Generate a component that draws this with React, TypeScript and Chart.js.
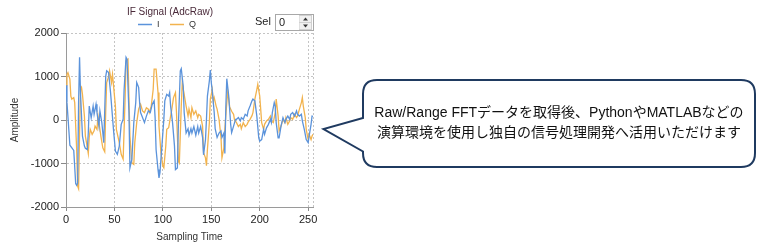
import React, { useEffect, useRef } from "react";
import { Chart, registerables } from "chart.js";

Chart.register(...registerables);

// I channel: sample index and ADC amplitude
const iSamples = [0, 1, 4, 8, 10, 11, 12, 13, 14, 15, 17, 19, 20, 22, 23, 24, 26, 28, 29, 31, 32, 34, 35, 37, 39, 41, 42, 44, 46, 49, 51, 53, 55, 57, 59, 60, 62, 63, 65, 66, 68, 70, 72, 73, 75, 76, 77, 79, 81, 83, 85, 87, 89, 91, 92, 93, 95, 96, 97, 99, 101, 102, 104, 106, 107, 108, 110, 112, 113, 115, 116, 118, 119, 121, 122, 124, 126, 127, 129, 130, 132, 134, 136, 137, 139, 141, 142, 144, 145, 146, 148, 149, 150, 151, 153, 154, 156, 158, 160, 161, 163, 164, 165, 166, 168, 170, 171, 173, 175, 176, 178, 180, 181, 183, 185, 187, 188, 190, 192, 193, 195, 197, 199, 200, 202, 204, 205, 207, 209, 211, 212, 213, 215, 216, 217, 219, 220, 222, 224, 226, 227, 229, 231, 232, 234, 236, 238, 239, 241, 243, 244, 246, 248, 250, 251, 253, 254, 255];
const iValues = [800, 400, -580, -700, -1460, -1500, -1450, 400, 1440, 600, -370, -600, -650, -680, -300, 320, 50, 320, 130, 360, 170, -140, 210, -60, -520, 1000, 1130, 1090, 630, -215, -715, -790, -600, -100, 15, 700, 1440, 1400, 170, -1100, -900, -60, 400, 860, 750, 400, 170, 55, -60, 90, 210, 170, 360, 440, 55, -680, -1140, -1330, -1210, -600, 15, 440, 590, 550, 630, 320, -60, -600, -1140, -1100, -140, 1130, 1180, 780, 170, -300, -200, -350, -200, -300, -150, -350, -150, -300, -150, -400, -800, -450, 15, 550, 900, 1150, 860, 670, 170, -200, -400, -300, -250, -400, -300, -770, 300, 950, 550, -100, -290, -140, 15, 15, 55, -20, 55, 15, 130, 90, 210, 320, 440, 480, 440, 90, -410, -485, -450, -215, -330, -180, -100, 15, -60, 170, 400, 320, -60, -410, -410, -140, 55, -60, 15, 90, 15, 130, 170, 90, 210, 130, 90, 130, -20, -215, -450, -520, -370, -100, 90, 80];

// Q channel: sample index and ADC amplitude
const qSamples = [0, 1, 2, 4, 5, 6, 8, 9, 11, 12, 13, 14, 15, 16, 17, 19, 20, 22, 23, 24, 25, 27, 29, 30, 32, 33, 36, 38, 40, 41, 42, 44, 45, 47, 48, 51, 52, 55, 57, 59, 61, 62, 64, 65, 66, 68, 70, 71, 73, 75, 77, 79, 81, 83, 85, 86, 88, 90, 91, 93, 95, 96, 98, 100, 101, 103, 104, 106, 108, 109, 111, 113, 114, 116, 117, 119, 120, 122, 124, 126, 127, 129, 130, 132, 134, 136, 137, 139, 141, 142, 144, 145, 146, 148, 149, 151, 152, 153, 155, 156, 158, 160, 161, 163, 164, 166, 167, 169, 171, 173, 174, 176, 178, 180, 181, 183, 185, 187, 188, 190, 192, 193, 195, 197, 198, 200, 201, 202, 204, 205, 207, 209, 211, 212, 214, 216, 217, 219, 220, 222, 224, 226, 227, 229, 231, 232, 234, 236, 238, 239, 241, 243, 244, 245, 247, 248, 250, 251, 253, 254, 255];
const qValues = [800, 1050, 1090, 940, 550, 480, 515, 400, -680, -1520, -1580, -300, 710, 750, 590, 90, -370, -630, -770, -400, -215, -330, -250, -140, -215, 100, -370, -640, -730, 200, 860, 1000, 1130, 860, 1050, 320, -215, -520, -790, -900, 480, 1360, 1400, 480, -370, -985, -1020, -520, -60, 250, 360, 210, 170, 280, 250, 170, 320, 700, 1170, 1170, 630, -140, -750, -1060, -1100, -600, -215, -175, 90, 210, 515, 630, 200, -950, -990, 320, 850, 590, 320, 90, 250, 55, 285, 130, 210, 55, 130, 90, -140, -750, -870, -1050, -680, -60, 480, 700, 440, 515, 320, 250, 15, -400, -870, -640, -200, 400, 650, 300, 200, 130, 0, -60, -150, -100, -200, -60, -150, -100, -50, 15, 100, 170, 480, 700, 820, 550, 250, -60, -215, -100, -20, 15, 90, -20, -60, 170, 480, 90, -250, -140, 15, -60, 55, -100, -20, 55, 15, 130, 55, 90, 250, 400, 515, 320, 55, -215, -450, -330, -450, -370, -330];

const seriesNames = ["I", "Q"];
const seriesColors = ["#5b93db", "#f2b34e"];
const xTicks = [0, 50, 100, 150, 200, 250];
const yTicks = [-2000, -1000, 0, 1000, 2000];
const xRange = [0, 255];
const yRange = [-2000, 2000];

const chartTitle = "IF Signal (AdcRaw)";
const xTitle = "Sampling Time";
const yTitle = "Amplitude";
const selLabel = "Sel";
const selValue = "0";
const calloutLines = [
  "Raw/Range FFTデータを取得後、PythonやMATLABなどの",
  "演算環境を使用し独自の信号処理開発へ活用いただけます",
];

const UI_FONT = '"Liberation Sans", Arial, sans-serif';

// Title, legend and dotted right-hand frame edge
const headerPlugin = {
  id: "header",
  beforeDatasetsDraw(chart: any) {
    const { ctx, chartArea } = chart;
    ctx.save();
    ctx.strokeStyle = "#c4c4c4";
    ctx.lineWidth = 1;
    ctx.setLineDash([2, 2]);
    ctx.beginPath();
    const x = Math.round(chartArea.right) + 0.5;
    ctx.moveTo(x, chartArea.top);
    ctx.lineTo(x, chartArea.bottom);
    ctx.stroke();
    ctx.restore();
  },
  afterDraw(chart: any) {
    const { ctx } = chart;
    ctx.save();
    ctx.textBaseline = "middle";
    ctx.textAlign = "center";
    ctx.font = `10px ${UI_FONT}`;
    ctx.fillStyle = "#4a2a3a";
    ctx.fillText(chartTitle, 170, 12);

    ctx.textAlign = "left";
    ctx.font = `9px ${UI_FONT}`;
    chart.data.datasets.forEach((ds: any, k: number) => {
      const x0 = 138 + k * 32;
      ctx.strokeStyle = ds.borderColor;
      ctx.lineWidth = 1.5;
      ctx.beginPath();
      ctx.moveTo(x0, 24.5);
      ctx.lineTo(x0 + 14, 24.5);
      ctx.stroke();
      ctx.fillStyle = "#333";
      ctx.fillText(ds.label, x0 + 19, 25);
    });
    ctx.restore();
  },
};

const plainNumber = (value: any) => String(value);

export default function App() {
  const canvasRef = useRef<HTMLCanvasElement>(null);

  useEffect(() => {
    document.body.style.margin = "0";
    const series = [
      { x: iSamples, y: iValues },
      { x: qSamples, y: qValues },
    ];
    const chart = new Chart(canvasRef.current as HTMLCanvasElement, {
      type: "line",
      data: {
        datasets: series.map((s, k) => ({
          label: seriesNames[k],
          data: s.x.map((x, n) => ({ x, y: s.y[n] })),
          borderColor: seriesColors[k],
          backgroundColor: seriesColors[k],
          borderWidth: 1.3,
          pointRadius: 0,
          tension: 0,
          fill: false,
        })),
      },
      options: {
        animation: false,
        responsive: false,
        layout: { padding: { top: 33, right: 27, left: 0, bottom: 0 } },
        plugins: {
          legend: { display: false },
          title: { display: false },
          tooltip: { enabled: false },
        },
        scales: {
          x: {
            type: "linear",
            min: xRange[0],
            max: xRange[1],
            afterBuildTicks: (scale: any) => {
              scale.ticks = xTicks.map((value) => ({ value }));
            },
            afterFit: (scale: any) => {
              scale.height = 41;
            },
            ticks: {
              padding: 2,
              color: "#222",
              font: { family: UI_FONT, size: 11 },
              maxRotation: 0,
              callback: plainNumber,
            },
            grid: {
              color: "#c4c4c4",
              tickColor: "#8a8a8a",
              tickLength: 4,
              tickBorderDash: [],
            },
            border: { color: "#9a9a9a", dash: [2, 2] },
            title: {
              display: true,
              text: xTitle,
              color: "#333",
              font: { family: UI_FONT, size: 10 },
              padding: { top: 0, bottom: 5 },
            },
          },
          y: {
            min: yRange[0],
            max: yRange[1],
            afterBuildTicks: (scale: any) => {
              scale.ticks = yTicks.map((value) => ({ value }));
            },
            afterFit: (scale: any) => {
              scale.width = 66;
            },
            ticks: {
              padding: 2,
              color: "#222",
              font: { family: UI_FONT, size: 11 },
              callback: plainNumber,
            },
            grid: {
              color: "#c4c4c4",
              tickColor: "#8a8a8a",
              tickLength: 5,
              tickBorderDash: [],
            },
            border: { color: "#9a9a9a", dash: [2, 2] },
            title: {
              display: true,
              text: yTitle,
              color: "#333",
              font: { family: UI_FONT, size: 10 },
              padding: { top: 9, bottom: 0 },
            },
          },
        },
      },
      plugins: [headerPlugin],
    } as any);
    return () => chart.destroy();
  }, []);

  return (
    <div
      style={{
        position: "relative",
        width: 761,
        height: 248,
        background: "#fff",
        overflow: "hidden",
        fontFamily: UI_FONT,
      }}
    >
      <canvas
        ref={canvasRef}
        width={340}
        height={248}
        style={{ position: "absolute", left: 0, top: 0, width: 340, height: 248 }}
      />

      {/* Sample selector */}
      <div
        style={{
          position: "absolute",
          left: 255,
          top: 15,
          fontSize: 11,
          lineHeight: "13px",
          color: "#222",
        }}
      >
        {selLabel}
      </div>
      <div
        style={{
          position: "absolute",
          left: 275,
          top: 14,
          width: 37,
          height: 15,
          border: "1px solid #a8a8a8",
          background: "#fff",
          boxSizing: "content-box",
        }}
      >
        <div
          style={{
            position: "absolute",
            left: 3,
            top: 1,
            fontSize: 11,
            lineHeight: "13px",
            color: "#222",
          }}
        >
          {selValue}
        </div>
        <svg
          width={13}
          height={15}
          style={{ position: "absolute", right: 1, top: 0 }}
        >
          <rect x={0} y={0.5} width={12.5} height={7} fill="#f0f0f0" stroke="#d0d0d0" />
          <rect x={0} y={7.5} width={12.5} height={7} fill="#f0f0f0" stroke="#d0d0d0" />
          <path d="M4 5.5 L6.5 2.5 L9 5.5 Z" fill="#333" />
          <path d="M4 9.5 L6.5 12.5 L9 9.5 Z" fill="#333" />
        </svg>
      </div>

      {/* Speech-bubble note */}
      <svg
        width={761}
        height={248}
        style={{ position: "absolute", left: 0, top: 0, pointerEvents: "none" }}
      >
        <path
          d="M377 80 L741 80 Q755 80 755 94 L755 153 Q755 167 741 167 L377 167 Q363 167 363 153 L363 151.5 L323.5 129 L363 118 L363 94 Q363 80 377 80 Z"
          fill="#fff"
          stroke="#1f3a60"
          strokeWidth={2}
          strokeLinejoin="miter"
        />
      </svg>
      {calloutLines.map((line, k) => (
        <div
          key={k}
          style={{
            position: "absolute",
            left: 363,
            width: 392,
            top: 102 + k * 20,
            textAlign: "center",
            fontSize: 14,
            lineHeight: "20px",
            whiteSpace: "nowrap",
            color: "#111",
            fontFamily: '"Liberation Sans", Arial, "Noto Sans CJK JP", sans-serif',
          }}
        >
          {line}
        </div>
      ))}
    </div>
  );
}
